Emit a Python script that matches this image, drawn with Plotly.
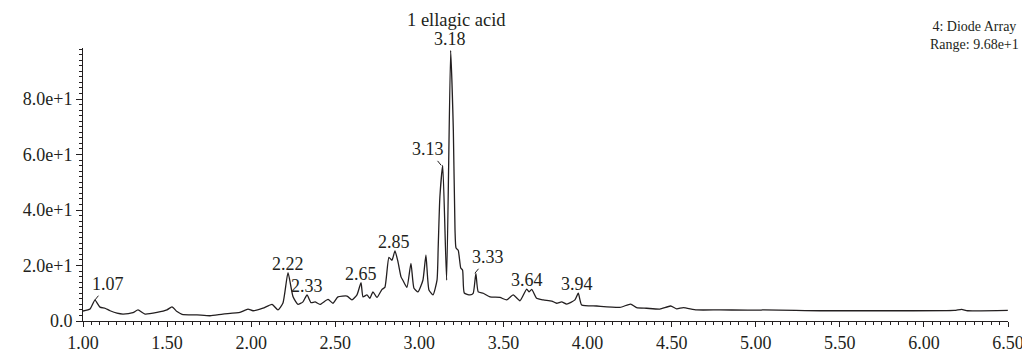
import numpy as np
import plotly.graph_objects as go

# Retention time (min) and detector response
times = [1.000, 1.042, 1.071, 1.101, 1.131, 1.161, 1.202, 1.238, 1.297, 1.327,
         1.369, 1.440, 1.499, 1.529, 1.559, 1.589, 1.678, 1.755, 1.832, 1.933,
         1.981, 2.011, 2.070, 2.124, 2.159, 2.189, 2.219, 2.249, 2.278, 2.308,
         2.332, 2.356, 2.380, 2.409, 2.457, 2.486, 2.516, 2.570, 2.599, 2.629,
         2.653, 2.665, 2.688, 2.706, 2.724, 2.748, 2.778, 2.795, 2.819, 2.837,
         2.855, 2.873, 2.891, 2.902, 2.926, 2.950, 2.968, 2.992, 3.021, 3.039,
         3.057, 3.081, 3.105, 3.112, 3.122, 3.139, 3.162, 3.186, 3.202, 3.212,
         3.218, 3.231, 3.246, 3.257, 3.267, 3.301, 3.320, 3.336, 3.350, 3.380,
         3.420, 3.479, 3.519, 3.558, 3.598, 3.638, 3.653, 3.668, 3.697, 3.737,
         3.787, 3.816, 3.846, 3.876, 3.925, 3.945, 3.965, 4.054, 4.193, 4.256,
         4.292, 4.351, 4.430, 4.494, 4.530, 4.569, 4.649, 4.787, 5.025, 5.040,
         5.382, 5.780, 6.180, 6.224, 6.260, 6.499]
response = [3.6, 4.3, 7.5, 5.0, 4.6, 3.7, 2.8, 2.5, 3.0, 4.0,
            2.5, 3.1, 4.0, 5.1, 3.4, 2.4, 2.2, 1.9, 2.5, 3.1,
            4.3, 3.7, 4.6, 6.0, 4.0, 6.5, 17.4, 8.7, 6.0, 6.9,
            9.4, 6.6, 6.9, 6.0, 7.8, 6.4, 8.7, 9.0, 7.6, 9.4,
            13.8, 8.7, 9.4, 8.2, 10.5, 8.5, 11.4, 12.1, 22.9, 21.9,
            25.3, 21.3, 15.9, 14.7, 12.1, 20.8, 11.8, 10.5, 14.7, 23.7,
            11.2, 9.4, 14.7, 26.6, 44.7, 56.1, 14.7, 97.5, 68.7, 32.7,
            26.3, 25.5, 19.1, 18.3, 10.1, 9.4, 10.0, 17.2, 10.5, 10.0,
            8.7, 8.5, 7.6, 9.4, 7.3, 11.5, 10.5, 11.4, 8.2, 7.6,
            7.2, 6.4, 6.9, 6.1, 7.6, 10.0, 5.8, 5.4, 4.9, 6.1,
            4.8, 4.6, 4.3, 5.4, 4.4, 4.8, 4.0, 4.0, 3.9, 4.0,
            3.7, 3.7, 3.8, 4.2, 3.7, 3.8]

peak_labels = ["1.07", "2.22", "2.33", "2.65", "2.85", "3.13", "3.18", "3.33", "3.64", "3.94"]
x_tick_vals = [1.0, 1.5, 2.0, 2.5, 3.0, 3.5, 4.0, 4.5, 5.0, 5.5, 6.0, 6.5]
y_tick_vals = [0, 20, 40, 60, 80]
y_tick_text = ["0.0", "2.0e+1", "4.0e+1", "6.0e+1", "8.0e+1"]
title_text = "1 ellagic acid"
info_text = "4: Diode Array<br>Range: 9.68e+1"

INK = "#231f20"
FONT = "Liberation Serif"

fig = go.Figure()
fig.add_trace(go.Scatter(x=times, y=response, mode="lines",
                         line=dict(color=INK, width=1.3, shape="spline", smoothing=0.5),
                         hoverinfo="skip"))

t_arr = np.array(times)
r_arr = np.array(response)

# label placement styles: (ax, ay) for labels with a leader line
label_style = {
    "1.07": (13, -16),
    "3.13": (-13, -16),
    "3.33": (13, -16),
}
for lab in peak_labels:
    xv = float(lab)
    mask = np.abs(t_arr - xv) <= 0.02
    yv = float(r_arr[mask].max())
    style = label_style.get(lab)
    if style:
        fig.add_annotation(x=xv, y=yv, text=lab, showarrow=True, arrowhead=0,
                           arrowwidth=1, arrowcolor=INK, ax=style[0], ay=style[1],
                           font=dict(family=FONT, size=18, color=INK))
    else:
        ys = 12 if lab == "3.18" else 9
        fig.add_annotation(x=xv, y=yv, text=lab, showarrow=False,
                           xanchor="center", yanchor="middle", yshift=ys,
                           font=dict(family=FONT, size=18, color=INK))

fig.add_annotation(x=3.218, y=1.1026, xref="x", yref="paper", text=title_text,
                   showarrow=False, xanchor="center", yanchor="middle",
                   font=dict(family=FONT, size=18.5, color=INK))
fig.add_annotation(x=0.964, y=1.044, xref="paper", yref="paper", text=info_text,
                   showarrow=False, align="center", xanchor="center", yanchor="middle",
                   font=dict(family=FONT, size=14, color=INK))

# page body has an 8px default margin, so the figure is sized to fit the window
fig.update_layout(
    width=1022, height=349,
    margin=dict(l=75, r=22, t=40, b=36),
    paper_bgcolor="white", plot_bgcolor="white",
    showlegend=False,
    font=dict(family=FONT, size=18, color=INK),
    xaxis=dict(range=[1.0, 6.5], tickmode="array", tickvals=x_tick_vals,
               tickformat=".2f", showgrid=False, zeroline=False, automargin=False,
               showline=True, linecolor=INK, linewidth=1,
               ticks="outside", ticklen=5, tickwidth=1, tickcolor=INK,
               minor=dict(tickmode="linear", tick0=1.0, dtick=0.05, ticks="outside",
                          ticklen=3, tickwidth=1, tickcolor=INK, showgrid=False),
               tickfont=dict(family=FONT, size=18, color=INK)),
    yaxis=dict(range=[0, 98.4], tickmode="array", tickvals=y_tick_vals,
               ticktext=y_tick_text, showgrid=False, zeroline=False, automargin=False,
               showline=True, linecolor=INK, linewidth=1,
               ticks="outside", ticklen=6, tickwidth=1, tickcolor=INK,
               minor=dict(tickmode="linear", tick0=0, dtick=2, ticks="outside",
                          ticklen=3, tickwidth=1, tickcolor=INK, showgrid=False),
               tickfont=dict(family=FONT, size=18, color=INK)),
)

fig.write_html("out.html")
